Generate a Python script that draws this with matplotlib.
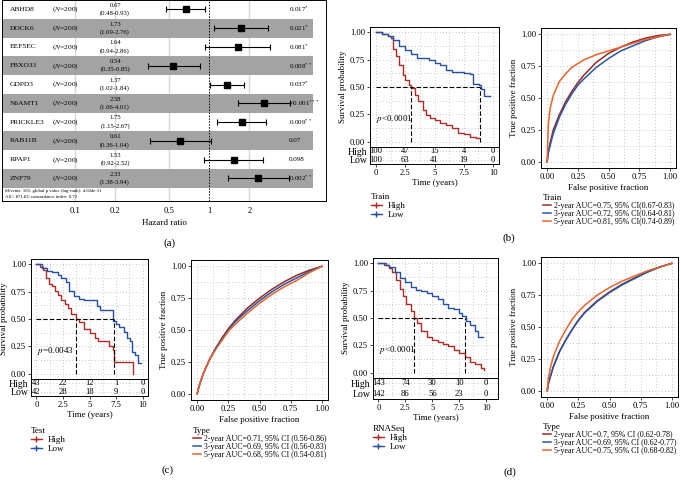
"""Forest plot, Kaplan-Meier curves and time-dependent ROC curves for the 10-gene signature."""

import matplotlib

matplotlib.use("Agg")

import matplotlib.pyplot as plt
from matplotlib.lines import Line2D
from matplotlib.patches import Rectangle
from matplotlib.ticker import FuncFormatter, MultipleLocator
import matplotlib.transforms as mtrans
import numpy as np

W, H = 681, 480

plt.rcParams["font.family"] = ["Liberation Serif", "DejaVu Serif"]
plt.rcParams["mathtext.fontset"] = "stix"
plt.rcParams["font.size"] = 6.2
plt.rcParams["axes.linewidth"] = 0.7

RED = "#b02a26"
BLUE = "#2451a3"
ROC_RED = "#962a22"
ROC_BLUE = "#2a56a6"
ROC_ORANGE = "#e8632c"
GRID = "#8c8c8c"

# ---- (a) multivariate Cox forest plot
genes = ["ABHD8", "DOCK6", "EEF5EC", "FBXO33", "GDPD3", "N6AMT1", "PRICKLE3", "RAB11B", "RPAP1", "ZNF79"]
hr = [0.67, 1.73, 1.64, 0.54, 1.37, 2.58, 1.75, 0.61, 1.53, 2.33]
hr_lo = [0.48, 1.09, 0.94, 0.35, 1.02, 1.66, 1.15, 0.36, 0.92, 1.38]
hr_hi = [0.93, 2.76, 2.86, 0.85, 1.84, 4.01, 2.67, 1.04, 2.52, 3.94]
pvals = ["0.017", "0.021", "0.081", "0.008", "0.037", "<0.001", "0.009", "0.07", "0.098", "0.002"]
stars = ["*", "*", "*", "**", "*", "***", "**", "", "", "**"]
n_patients = 200
forest_note = ["#Events: 105; global p value (log-rank): 4.604e-11",
               "AIC: 871.83; concordance index: 0.72"]
hr_ticks = [0.1, 0.2, 0.5, 1, 2]

# ---- Kaplan-Meier curves (time in years, survival probability)
train_hi_t = [0, 0.5, 1.0, 1.3, 1.5, 1.7, 2.0, 2.3, 2.5, 2.8, 3.0, 3.3, 3.6, 4.0, 4.3, 4.6, 5.0, 5.5, 6.0, 6.5, 7.0, 7.5, 8.0, 8.5, 8.8]
train_hi_s = [1.0, 0.99, 0.97, 0.95, 0.85, 0.78, 0.70, 0.61, 0.56, 0.52, 0.49, 0.43, 0.37, 0.29, 0.24, 0.22, 0.20, 0.17, 0.15, 0.12, 0.08, 0.07, 0.04, 0.03, 0.03]
train_lo_t = [0, 0.5, 1.0, 1.5, 2.0, 2.5, 3.0, 3.5, 4.0, 4.5, 5.0, 5.5, 6.0, 6.5, 7.0, 7.5, 8.0, 8.3, 8.8, 9.0, 9.2, 9.7]
train_lo_s = [1.0, 0.99, 0.97, 0.93, 0.88, 0.84, 0.80, 0.77, 0.77, 0.75, 0.72, 0.70, 0.66, 0.64, 0.64, 0.63, 0.62, 0.53, 0.52, 0.48, 0.42, 0.42]
train_median = [3.0, 8.9]
train_risk_hi = [100, 47, 15, 4, 0]
train_risk_lo = [100, 63, 41, 19, 0]

test_hi_t = [0, 0.3, 0.6, 0.9, 1.2, 1.5, 1.8, 2.0, 2.3, 2.7, 3.0, 3.3, 3.7, 4.0, 4.5, 5.0, 5.5, 5.8, 6.5, 6.8, 7.2, 7.3, 8.0, 9.1, 9.1]
test_hi_s = [1.0, 0.98, 0.95, 0.88, 0.82, 0.80, 0.76, 0.72, 0.67, 0.64, 0.60, 0.55, 0.50, 0.47, 0.41, 0.37, 0.33, 0.30, 0.30, 0.25, 0.22, 0.11, 0.11, 0.11, 0.0]
test_lo_t = [0, 0.5, 1.0, 1.5, 2.0, 2.3, 2.8, 3.1, 3.5, 4.0, 4.5, 5.3, 5.7, 6.0, 7.0, 7.2, 7.5, 7.8, 8.2, 8.5, 8.8, 9.0, 9.3, 9.6, 9.8]
test_lo_s = [1.0, 0.97, 0.94, 0.93, 0.90, 0.88, 0.84, 0.76, 0.71, 0.68, 0.67, 0.67, 0.62, 0.58, 0.58, 0.48, 0.45, 0.43, 0.38, 0.33, 0.30, 0.20, 0.17, 0.10, 0.10]
test_median = [3.7, 7.3]
test_risk_hi = [43, 22, 12, 1, 0]
test_risk_lo = [42, 28, 18, 9, 0]

rna_hi_t = [0, 0.5, 1.0, 1.3, 1.6, 2.0, 2.3, 2.6, 3.0, 3.3, 3.6, 4.0, 4.5, 5.0, 5.5, 6.0, 6.5, 7.0, 7.5, 8.0, 8.5, 9.0, 9.5, 9.8]
rna_hi_s = [1.0, 0.99, 0.96, 0.92, 0.85, 0.77, 0.70, 0.63, 0.56, 0.50, 0.45, 0.38, 0.33, 0.30, 0.28, 0.26, 0.24, 0.21, 0.18, 0.14, 0.10, 0.08, 0.04, 0.02]
rna_lo_t = [0, 0.7, 1.0, 1.5, 2.0, 2.5, 3.0, 3.5, 4.0, 4.5, 5.0, 5.5, 6.0, 6.5, 7.0, 7.5, 7.8, 8.1, 8.5, 9.0, 9.2, 9.7]
rna_lo_s = [1.0, 0.99, 0.97, 0.92, 0.87, 0.83, 0.78, 0.76, 0.75, 0.73, 0.70, 0.67, 0.63, 0.59, 0.58, 0.55, 0.52, 0.47, 0.44, 0.38, 0.33, 0.33]
rna_median = [3.3, 8.0]
rna_risk_hi = [143, 74, 30, 10, 0]
rna_risk_lo = [142, 86, 56, 23, 0]

risk_times = [0, 2.5, 5, 7.5, 10]

# ---- time-dependent ROC curves
fpr = [0, 0.01, 0.025, 0.05, 0.1, 0.15, 0.2, 0.25, 0.3, 0.4, 0.5, 0.6, 0.7, 0.8, 0.9, 1.0]
train_tpr_2y = [0, 0.08, 0.15, 0.25, 0.37, 0.47, 0.55, 0.62, 0.68, 0.78, 0.85, 0.90, 0.94, 0.97, 0.99, 1.0]
train_tpr_3y = [0, 0.07, 0.13, 0.22, 0.35, 0.45, 0.53, 0.60, 0.65, 0.74, 0.81, 0.87, 0.91, 0.95, 0.98, 1.0]
train_tpr_5y = [0, 0.30, 0.42, 0.52, 0.63, 0.69, 0.74, 0.77, 0.80, 0.84, 0.87, 0.90, 0.93, 0.96, 0.98, 1.0]
test_tpr_2y = [0, 0.04, 0.09, 0.16, 0.27, 0.36, 0.44, 0.51, 0.57, 0.67, 0.75, 0.82, 0.88, 0.93, 0.97, 1.0]
test_tpr_3y = [0, 0.04, 0.09, 0.16, 0.27, 0.36, 0.43, 0.50, 0.56, 0.65, 0.73, 0.80, 0.86, 0.91, 0.96, 1.0]
test_tpr_5y = [0, 0.04, 0.09, 0.16, 0.27, 0.35, 0.42, 0.49, 0.54, 0.63, 0.71, 0.78, 0.84, 0.89, 0.95, 1.0]
rna_tpr_2y = [0, 0.06, 0.11, 0.19, 0.31, 0.40, 0.48, 0.555, 0.615, 0.705, 0.775, 0.835, 0.885, 0.93, 0.97, 1.0]
rna_tpr_3y = [0, 0.06, 0.11, 0.19, 0.31, 0.40, 0.48, 0.55, 0.61, 0.70, 0.77, 0.83, 0.88, 0.93, 0.97, 1.0]
rna_tpr_5y = [0, 0.10, 0.18, 0.27, 0.39, 0.48, 0.56, 0.62, 0.67, 0.75, 0.81, 0.86, 0.90, 0.94, 0.97, 1.0]

train_auc = ["2-year AUC=0.75, 95% CI(0.67-0.83)", "3-year AUC=0.72, 95% CI(0.64-0.81)",
             "5-year AUC=0.81, 95% CI(0.74-0.89)"]
test_auc = ["2-year AUC=0.71, 95% CI (0.56-0.86)", "3-year AUC=0.69, 95% CI (0.56-0.83)",
            "5-year AUC=0.68, 95% CI (0.54-0.81)"]
rna_auc = ["2-year AUC=0.7, 95% CI (0.62-0.78)", "3-year AUC=0.69, 95% CI (0.62-0.77)",
           "5-year AUC=0.75, 95% CI (0.68-0.82)"]

fig = plt.figure(figsize=(W / 100, H / 100), dpi=100)


def add_px(left, top, right, bottom):
    return fig.add_axes([left / W, 1 - bottom / H, (right - left) / W, (bottom - top) / H])


def dotted_grid(ax):
    ax.grid(True, which="both", color=GRID, linestyle=(0, (0.6, 3.2)), linewidth=0.6)
    ax.set_axisbelow(True)


def forest(ax):
    n = len(genes)
    ax.set_xscale("log")
    ax.set_xlim(0.0285, 7.47)
    ax.set_ylim(10.7, 0)
    blend = mtrans.blended_transform_factory(ax.transAxes, ax.transData)
    for x in hr_ticks:
        if x != 1:
            ax.axvline(x, color="#d6d6d6", lw=1.0, zorder=0)
    for i in range(n):
        if i % 2 == 1:
            ax.add_patch(Rectangle((0.003, i), 0.957, 1, transform=blend,
                                   facecolor="#a3a3a3", edgecolor="none", zorder=1))
    ax.axvline(1, color="black", lw=0.7, linestyle=(0, (1.5, 1.5)), zorder=2)
    rows = np.arange(n) + 0.5
    err = [np.array(hr) - np.array(hr_lo), np.array(hr_hi) - np.array(hr)]
    ax.errorbar(hr, rows, xerr=err, fmt="s", color="black", ms=5, capsize=2.2,
                elinewidth=0.8, capthick=0.8, zorder=3)
    for i, g in enumerate(genes):
        y = rows[i]
        ax.text(0.025, y, g, transform=blend, ha="left", va="center", fontsize=5.4)
        ax.text(0.196, y, f"($N$={n_patients})", transform=blend, ha="center", va="center", fontsize=5.4)
        ax.text(0.349, y - 0.22, f"{hr[i]:.2f}", transform=blend, ha="center", va="center", fontsize=4.8)
        ax.text(0.349, y + 0.2, f"({hr_lo[i]:.2f}-{hr_hi[i]:.2f})", transform=blend,
                ha="center", va="center", fontsize=4.8)
        lab = pvals[i] + (r"$^{" + stars[i] + "}$" if stars[i] else "")
        ax.text(0.885, y, lab, transform=blend, ha="left", va="center", fontsize=5.0)
    ax.text(0.008, 10.16, forest_note[0], transform=blend, ha="left", va="center", fontsize=3.4)
    ax.text(0.008, 10.43, forest_note[1], transform=blend, ha="left", va="center", fontsize=3.4)
    ax.set_xticks(hr_ticks)
    ax.set_xticklabels([f"{t:g}" for t in hr_ticks])
    ax.minorticks_off()
    ax.set_yticks([])
    ax.tick_params(axis="x", length=0, pad=4, labelsize=6.2)
    ax.set_xlabel("Hazard ratio", fontsize=6.5, labelpad=3)


def km(box, table_bottom, xmax, hi_t, hi_s, lo_t, lo_s, medians, ptext, risk_hi, risk_lo,
       title, leg_xy):
    left, top, right, bottom = box
    ax = add_px(left, top, right, bottom)
    tab = add_px(left, bottom, right, table_bottom)
    for a in (ax, tab):
        a.set_xlim(-0.5, xmax)
        a.xaxis.set_major_locator(MultipleLocator(2.5))
        a.xaxis.set_minor_locator(MultipleLocator(1.25))
    ax.set_ylim(-0.05, 1.05)
    ax.yaxis.set_major_locator(MultipleLocator(0.25))
    ax.yaxis.set_minor_locator(MultipleLocator(0.125))
    ax.yaxis.set_major_formatter(plt.FormatStrFormatter("%.2f"))
    dotted_grid(ax)
    ax.step(hi_t, hi_s, where="post", color=RED, lw=1.0)
    ax.step(lo_t, lo_s, where="post", color=BLUE, lw=1.0)
    dash = (0, (4, 2))
    ax.plot([0, max(medians)], [0.5, 0.5], color="black", lw=0.8, linestyle=dash)
    for m in medians:
        ax.plot([m, m], [0, 0.5], color="black", lw=0.8, linestyle=dash)
    ax.text(0.05, 0.21, ptext, ha="left", va="center", fontsize=6.5)
    ax.tick_params(axis="x", which="both", length=0, labelbottom=False)
    ax.tick_params(axis="y", which="both", length=2, width=0.5, pad=1.5)
    ax.tick_params(axis="y", which="minor", length=0)
    ax.set_ylabel("Survival probability", fontsize=6.5, labelpad=2)

    tab.set_ylim(0, 2)
    tab.set_yticks([1.5, 0.5])
    tab.set_yticklabels(["High", "Low"], fontsize=7)
    dotted_grid(tab)
    for t, nh, nl in zip(risk_times, risk_hi, risk_lo):
        tab.text(t, 1.5, str(nh), ha="center", va="center", fontsize=6.2)
        tab.text(t, 0.5, str(nl), ha="center", va="center", fontsize=6.2)
    tab.xaxis.set_major_formatter(FuncFormatter(lambda v, _: f"{v:g}"))
    tab.tick_params(axis="x", which="major", length=2, width=0.5, pad=1.5)
    tab.tick_params(axis="x", which="minor", length=0)
    tab.tick_params(axis="y", length=0, pad=2)
    tab.set_xlabel("Time (years)", fontsize=6.5, labelpad=1.5)

    handles = [Line2D([], [], color=RED, lw=1.0, marker="+", ms=4),
               Line2D([], [], color=BLUE, lw=1.0, marker="+", ms=4)]
    fig.legend(handles, ["High", "Low"], title=title, loc="upper left",
               bbox_to_anchor=(leg_xy[0] / W, 1 - leg_xy[1] / H), frameon=False,
               fontsize=6.5, title_fontsize=6.5, handlelength=1.2, handletextpad=0.6,
               labelspacing=0.1, borderpad=0, borderaxespad=0, alignment="left")


def roc(box, curves, labels, title, leg_xy, ylabel=True):
    ax = add_px(*box)
    ax.set_xlim(-0.05, 1.05)
    ax.set_ylim(-0.05, 1.05)
    for a in (ax.xaxis, ax.yaxis):
        a.set_major_locator(MultipleLocator(0.25))
        a.set_minor_locator(MultipleLocator(0.125))
        a.set_major_formatter(plt.FormatStrFormatter("%.2f"))
    dotted_grid(ax)
    colors = [ROC_RED, ROC_BLUE, ROC_ORANGE]
    for tpr, c in zip(curves, colors):
        ax.plot(fpr, tpr, color=c, lw=1.1)
    ax.tick_params(which="both", length=2, width=0.5, pad=1.5)
    ax.tick_params(which="minor", length=0)
    ax.set_xlabel("False positive fraction", fontsize=6.5, labelpad=2)
    if ylabel:
        ax.set_ylabel("True positive fraction", fontsize=6.5, labelpad=2)
    handles = [Line2D([], [], color=c, lw=1.1) for c in colors]
    fig.legend(handles, labels, title=title, loc="upper left",
               bbox_to_anchor=(leg_xy[0] / W, 1 - leg_xy[1] / H), frameon=False,
               fontsize=5.7, title_fontsize=6.5, handlelength=1.0, handletextpad=0.4,
               labelspacing=0.0, borderpad=0, borderaxespad=0, alignment="left")


forest(add_px(2, 0, 326, 201))

km((370, 27, 499, 147), 164, 10.5, train_hi_t, train_hi_s, train_lo_t, train_lo_s,
   train_median, r"$p$<0.0001", train_risk_hi, train_risk_lo, "Train", (371, 193))
roc((541, 28, 676, 168), [train_tpr_2y, train_tpr_3y, train_tpr_5y], train_auc, "Train", (543, 194))

km((31, 259, 148, 379), 396, 10.5, test_hi_t, test_hi_s, test_lo_t, test_lo_s,
   test_median, r"$p$=0.0043", test_risk_hi, test_risk_lo, "Test", (31, 427))
roc((191, 260, 328, 400), [test_tpr_2y, test_tpr_3y, test_tpr_5y], test_auc, "Type", (193, 427))

km((373, 258, 498, 378), 399, 11.1, rna_hi_t, rna_hi_s, rna_lo_t, rna_lo_s,
   rna_median, r"$p$<0.0001", rna_risk_hi, rna_risk_lo, "RNASeq", (373, 425))
roc((541, 257, 678, 397), [rna_tpr_2y, rna_tpr_3y, rna_tpr_5y], rna_auc, "Type", (543, 423))

for lab, x, y in [("(a)", 170, 243), ("(b)", 509, 238), ("(c)", 168, 470), ("(d)", 510, 472)]:
    fig.text(x / W, 1 - y / H, lab, ha="center", va="center", fontsize=8)

fig.savefig("out.png", dpi=100)
